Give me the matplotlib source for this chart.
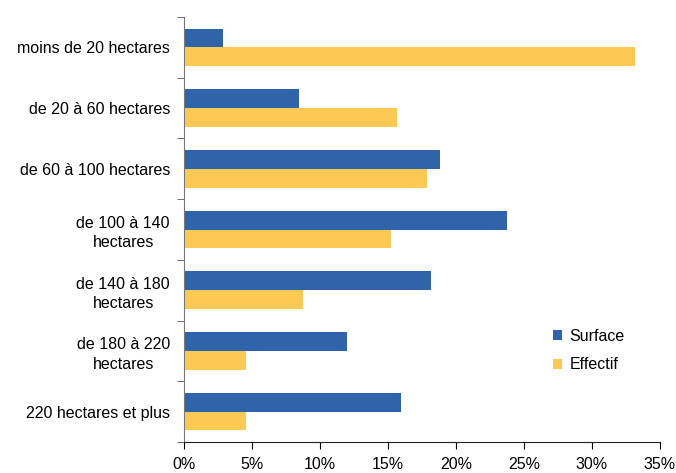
import matplotlib.pyplot as plt
import numpy as np
from matplotlib.ticker import FuncFormatter

plt.rcParams['font.family'] = ['Liberation Sans', 'DejaVu Sans']

# Données
categories = ['moins de 20 hectares', 'de 20 à 60 hectares', 'de 60 à 100 hectares',
              'de 100 à 140\nhectares', 'de 140 à 180\nhectares', 'de 180 à 220\nhectares',
              '220 hectares et plus']
surface = [2.85, 8.5, 18.8, 23.8, 18.2, 12.0, 16.0]
effectif = [33.2, 15.7, 17.9, 15.2, 8.75, 4.6, 4.55]

bleu = '#3064aa'
jaune = '#fcc955'

fig = plt.figure(figsize=(6.76, 4.73), dpi=100)
ax = fig.add_axes([0.272, 0.0655, 0.704, 0.8985])

y = np.arange(len(categories))
h = 0.31
ax.barh(y - h / 2, surface, height=h, color=bleu, label='Surface')
ax.barh(y + h / 2, effectif, height=h, color=jaune, label='Effectif')

ax.set_ylim(len(categories) - 0.5, -0.5)
ax.set_xlim(0, 35)
ax.set_xticks(np.arange(0, 36, 5))
ax.xaxis.set_major_formatter(FuncFormatter(lambda v, p: f'{v:.0f}%'))

ax.set_yticks(y)
ax.set_yticklabels(categories, multialignment='center', linespacing=1.35)
ax.set_yticks(np.arange(-0.5, len(categories), 1), minor=True)
ax.tick_params(axis='y', which='major', length=0, pad=10, labelsize=11.5)
ax.tick_params(axis='y', which='minor', length=5, color='#555555')
ax.tick_params(axis='x', length=5, labelsize=11.5, pad=6)

for s in ['top', 'right']:
    ax.spines[s].set_visible(False)
ax.spines['left'].set_color('#777777')
ax.spines['bottom'].set_color('#222222')

ax.legend(loc='center left', bbox_to_anchor=(0.745, 0.215), frameon=False,
          fontsize=11.5, handlelength=0.6, handleheight=0.6, labelspacing=0.85,
          handletextpad=0.45)

plt.savefig('out.png', dpi=100)
